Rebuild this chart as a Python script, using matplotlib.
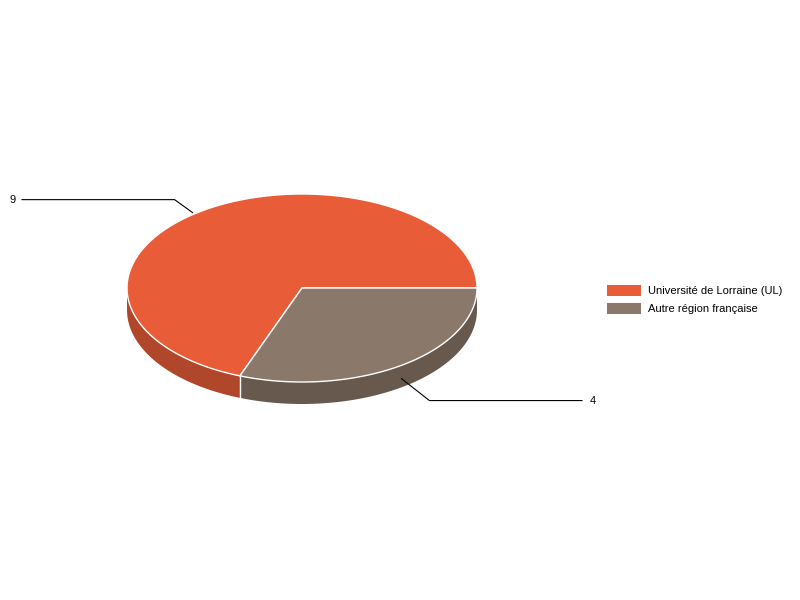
import numpy as np
import matplotlib.pyplot as plt
from matplotlib.patches import Polygon, Rectangle

plt.rcParams['font.family'] = ['Liberation Sans', 'DejaVu Sans']

# data
labels = ['Université de Lorraine (UL)', 'Autre région française']
values = [9, 4]
colors = ['#E85D37', '#8A786B']
side_colors = ['#B0472A', '#67594E']

# ellipse geometry (pixel space)
cx, cy = 302, 288
rx, ry = 175, 94
depth = 22

fig = plt.figure(figsize=(8, 6), dpi=100)
ax = fig.add_axes([0, 0, 1, 1])
ax.set_xlim(0, 800)
ax.set_ylim(600, 0)
ax.axis('off')

total = sum(values)
# slices clockwise from 3 o'clock: last series first
spans = {}
a = 0.0
for i in [1, 0]:
    a2 = a - 360.0 * values[i] / total
    spans[i] = (a2, a)
    a = a2

def pt(deg, dz=0):
    t = np.radians(deg)
    return cx + rx * np.cos(t), cy - ry * np.sin(t) + dz

# side walls (front half only)
for i in [0, 1]:
    lo, hi = spans[i]
    for off in (0, -360, 360):
        s = max(lo + off, -180)
        e = min(hi + off, 0)
        if e > s:
            t = np.linspace(s, e, 100)
            top = [pt(d) for d in t]
            bot = [pt(d, depth) for d in t[::-1]]
            ax.add_patch(Polygon(top + bot, closed=True, facecolor=side_colors[i],
                                 edgecolor='none', zorder=1))
# white seam on the side where slices meet
sx, sy = pt(spans[1][0])
ax.plot([sx, sx], [sy, sy + depth], color='white', lw=1, zorder=2)

# top faces
for i in [0, 1]:
    lo, hi = spans[i]
    t = np.linspace(lo, hi, 200)
    poly = [(cx, cy)] + [pt(d) for d in t]
    ax.add_patch(Polygon(poly, closed=True, facecolor=colors[i],
                         edgecolor='white', lw=1, zorder=3))

# leader lines and value labels
for i in [0, 1]:
    lo, hi = spans[i]
    mid = (lo + hi) / 2
    x0, y0 = pt(mid)
    if np.sin(np.radians(mid)) < 0:
        y0 += depth * 0.6
        ex, ey = x0 + 28, y0 + 22
        tx = 582
        ax.plot([x0, ex, tx], [y0, ey, ey], color='black', lw=0.8, zorder=4)
        ax.text(tx + 8, ey, str(values[i]), ha='left', va='center', fontsize=8)
    else:
        x0, y0 = x0 - 10, y0 + 2
        ex, ey = x0 - 18, y0 - 13
        tx = 22
        ax.plot([x0, ex, tx], [y0, ey, ey], color='black', lw=0.8, zorder=4)
        ax.text(tx - 6, ey, str(values[i]), ha='right', va='center', fontsize=8)

# legend
for k, (lab, col) in enumerate(zip(labels, colors)):
    y = 285 + k * 18
    ax.add_patch(Rectangle((607, y), 34, 11, facecolor=col, edgecolor='none'))
    ax.text(648, y + 5.5, lab, ha='left', va='center', fontsize=8)

fig.savefig('out.png', dpi=100)
